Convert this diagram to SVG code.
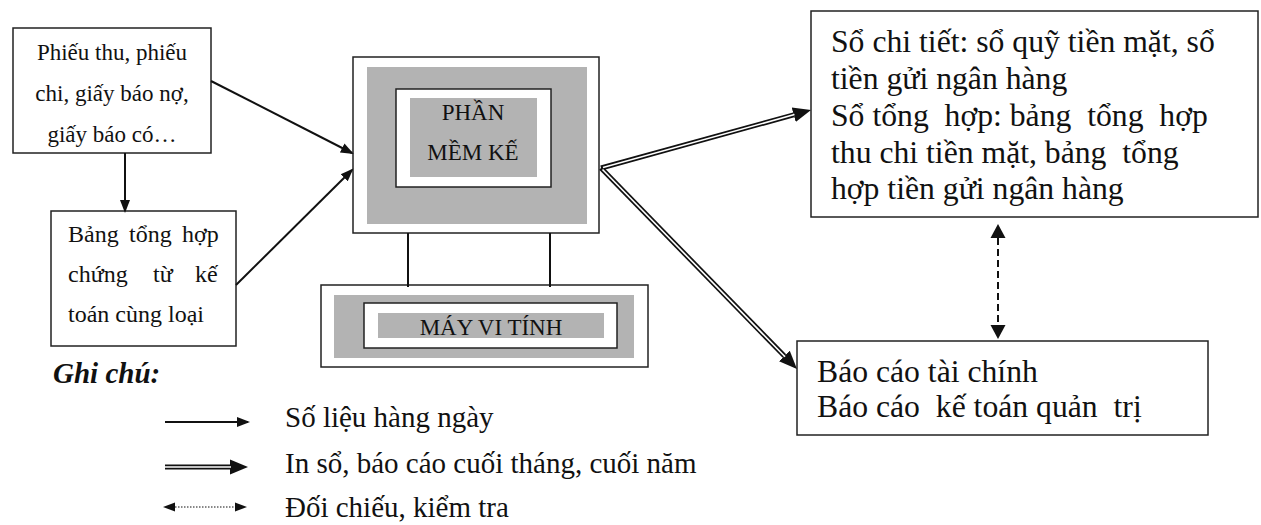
<svg xmlns="http://www.w3.org/2000/svg" width="1261" height="525" viewBox="0 0 1261 525">
  <style>
    .box { fill: #ffffff; stroke: #222222; stroke-width: 1.5; }
    .shade { fill: #b3b3b3; stroke: none; }
    .t { font-family: "Liberation Serif", "Times New Roman", serif; fill: #111111; }
    .s23 { font-size: 23px; }
    .s24 { font-size: 24px; }
    .big { font-size: 31.7px; }
    .leg { font-size: 29px; }
    .line { fill: none; stroke: #111111; stroke-width: 2; }
    .dbl-out { fill: none; stroke: #111111; stroke-width: 5; }
    .dbl-in { fill: none; stroke: #ffffff; stroke-width: 1.6; }
    .dash { fill: none; stroke: #111111; stroke-width: 2; stroke-dasharray: 7 4; }
    .dot { fill: none; stroke: #111111; stroke-width: 1; stroke-dasharray: 1.5 1.5; }
  </style>
  <defs>
    <marker id="head" markerUnits="userSpaceOnUse" markerWidth="14" markerHeight="12" viewBox="0 -6 14 12" refX="11" refY="0" orient="auto">
      <path d="M0,-5 L13,0 L0,5 z" fill="#111111"/>
    </marker>
    <marker id="bighead" markerUnits="userSpaceOnUse" markerWidth="20" markerHeight="18" viewBox="0 -9 20 18" refX="0" refY="0" orient="auto">
      <path d="M0,-7.5 L18,0 L0,7.5 z" fill="#111111"/>
    </marker>
    <marker id="dhead" markerUnits="userSpaceOnUse" markerWidth="16" markerHeight="16" viewBox="0 -8 16 16" refX="0" refY="0" orient="auto-start-reverse">
      <path d="M0,-7.5 L14,0 L0,7.5 z" fill="#111111"/>
    </marker>
    <marker id="smallhead" markerUnits="userSpaceOnUse" markerWidth="14" markerHeight="10" viewBox="0 -5 14 10" refX="0" refY="0" orient="auto-start-reverse">
      <path d="M0,-4.5 L12,0 L0,4.5 z" fill="#111111"/>
    </marker>
  </defs>

  <!-- source documents -->
  <g id="chung-tu">
    <rect class="box" x="13" y="28" width="198" height="125"/>
    <text class="t s23" x="112" y="60" text-anchor="middle">Phiếu thu, phiếu</text>
    <text class="t s23" x="112" y="101" text-anchor="middle">chi, giấy báo nợ,</text>
    <text class="t s23" x="112" y="142" text-anchor="middle">giấy báo có…</text>
  </g>

  <!-- summary of vouchers -->
  <g id="bang-tong-hop">
    <rect class="box" x="51" y="211" width="185" height="135"/>
    <text class="t s24" y="242"><tspan x="68">Bảng</tspan><tspan x="129">tổng</tspan><tspan x="182">hợp</tspan></text>
    <text class="t s24" y="282"><tspan x="68">chứng</tspan><tspan x="153">từ</tspan><tspan x="195">kế</tspan></text>
    <text class="t s24" x="68" y="322">toán cùng loại</text>
  </g>

  <!-- accounting software -->
  <g id="phan-mem">
    <rect class="box" x="353" y="57" width="246" height="176"/>
    <rect class="shade" x="367" y="67" width="220" height="157"/>
    <rect class="box" x="396" y="89" width="155" height="98"/>
    <rect class="shade" x="410" y="98" width="127" height="79"/>
    <text class="t s23" x="473" y="120" text-anchor="middle">PHẦN</text>
    <text class="t s23" x="473" y="160" text-anchor="middle">MỀM KẾ</text>
  </g>

  <!-- computer -->
  <g id="may-vi-tinh">
    <rect class="box" x="321" y="285" width="327" height="82"/>
    <rect class="shade" x="334" y="295" width="300" height="63"/>
    <rect class="box" x="364" y="303" width="253" height="45"/>
    <rect class="shade" x="378" y="313" width="226" height="25"/>
    <text class="t s23" x="491" y="335" text-anchor="middle">MÁY VI TÍNH</text>
  </g>

  <!-- detail and summary books -->
  <g id="so-sach">
    <rect class="box" x="811" y="11" width="447" height="206"/>
    <text class="t big" x="831" y="52" xml:space="preserve">Sổ chi tiết: sổ quỹ tiền mặt, sổ</text>
    <text class="t big" x="831" y="89" xml:space="preserve">tiền gửi ngân hàng</text>
    <text class="t big" x="831" y="126" xml:space="preserve">Sổ tổng  hợp: bảng  tổng  hợp</text>
    <text class="t big" x="831" y="163" xml:space="preserve">thu chi tiền mặt, bảng  tổng</text>
    <text class="t big" x="831" y="199" xml:space="preserve">hợp tiền gửi ngân hàng</text>
  </g>

  <!-- reports -->
  <g id="bao-cao">
    <rect class="box" x="797" y="341" width="411" height="94"/>
    <text class="t big" x="817" y="382" xml:space="preserve">Báo cáo tài chính</text>
    <text class="t big" x="817" y="417" xml:space="preserve">Báo cáo  kế toán quản  trị</text>
  </g>

  <!-- connectors -->
  <g id="connectors">
    <path class="line" d="M125,153 L125,211" marker-end="url(#head)"/>
    <path class="line" d="M211,81 L352,153" marker-end="url(#head)"/>
    <path class="line" d="M236,285 L352,170" marker-end="url(#head)"/>
    <path class="line" d="M408,233 L408,287 M550,233 L550,287"/>
    <!-- double-line output arrows -->
    <path class="dbl-out" d="M601,168 L793.7,114.8" marker-end="url(#bighead)"/>
    <path class="dbl-out" d="M601,168 L784.4,356.1" marker-end="url(#bighead)"/>
    <path class="dbl-in" d="M603,167.5 L794.5,114.6"/>
    <path class="dbl-in" d="M602.5,169.5 L785,356.8"/>
    <!-- cross-check -->
    <path class="dash" d="M998,238 L998,325" marker-start="url(#dhead)" marker-end="url(#dhead)"/>
  </g>

  <!-- legend -->
  <g id="ghi-chu">
    <text class="t" x="53" y="383" font-size="29" font-weight="bold" font-style="italic">Ghi chú:</text>
    <path class="line" d="M165,422 L248,422" marker-end="url(#head)"/>
    <text class="t leg" x="285" y="427">Số liệu hàng ngày</text>
    <path class="dbl-out" d="M165,467 L230,467" marker-end="url(#bighead)"/>
    <path class="dbl-in" d="M165,467 L231,467"/>
    <text class="t leg" x="285" y="473">In sổ, báo cáo cuối tháng, cuối năm</text>
    <path class="dot" d="M175,507 L235,507" marker-start="url(#smallhead)" marker-end="url(#smallhead)"/>
    <text class="t leg" x="285" y="517">Đối chiếu, kiểm tra</text>
  </g>
</svg>
